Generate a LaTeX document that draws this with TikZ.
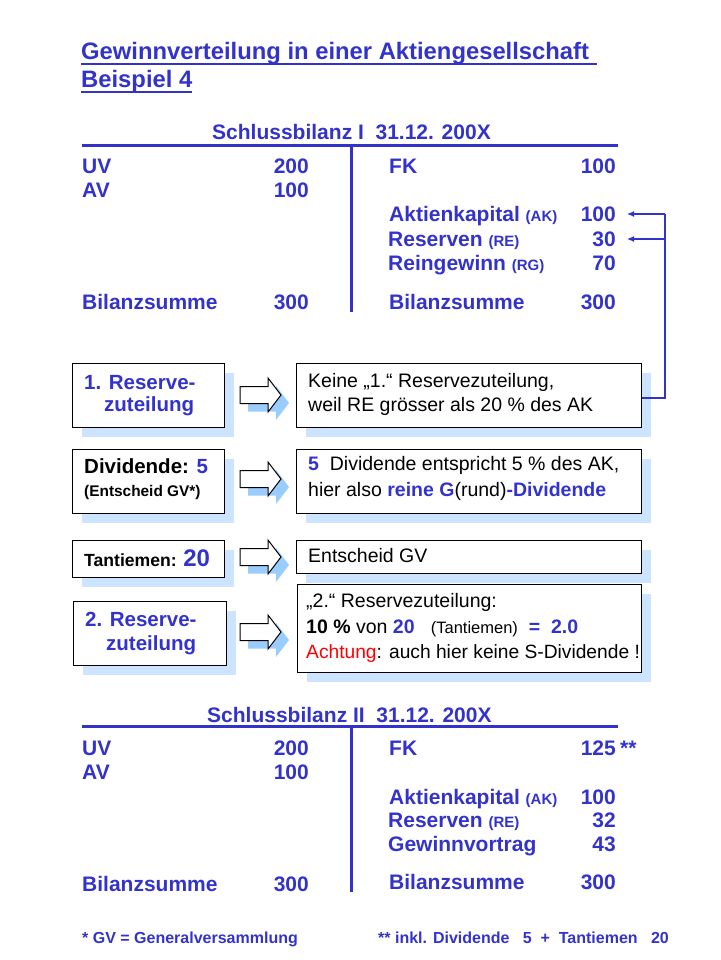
\documentclass[tikz,border=0pt]{standalone}
\usepackage{fontspec}
\setmainfont{Liberation Sans}
\usetikzlibrary{shadows,arrows.meta,calc}
\definecolor{tblue}{HTML}{3333CC}
\definecolor{shadowblue}{HTML}{CCE4FF}
\definecolor{arrowblue}{HTML}{99CCFF}
\definecolor{tred}{HTML}{FF0000}
\newcommand\fsz[1]{\fontsize{#1}{#1}\selectfont}
\tikzset{
  t/.style={inner sep=0pt, anchor=base west},
  tr/.style={inner sep=0pt, anchor=base east},
  bal/.style={t, font=\fsz{21}\bfseries, text=tblue},
  balr/.style={tr, font=\fsz{21}\bfseries, text=tblue},
  bline/.style={draw=tblue, line width=3pt},
  bx/.style={draw=black, line width=1.2pt, fill=white, inner sep=0pt, anchor=north west,
     general shadow={fill=shadowblue, shadow xshift=9pt, shadow yshift=-9pt}},
  blockarrow/.pic={
     \fill[arrowblue] (8,-0.5) -- (36,-0.5) -- (36,-9) -- (49,8) -- (36,25) -- (36,16.5) -- (8,16.5) -- cycle;
     \draw[black, line width=1pt, fill=white, line join=miter]
        (0,-8.5) -- (28,-8.5) -- (28,-17) -- (41,0) -- (28,17) -- (28,8.5) -- (0,8.5) -- cycle;
     \coordinate (-tip) at (41,0);
  },
  btxt/.style={t, font=\fsz{19.5}},
  lbl/.style={t, font=\fsz{20.5}\bfseries, text=tblue},
  conn/.style={draw=tblue, line width=1.2pt},
}
\begin{document}
\begin{tikzpicture}[x=1pt,y=-1pt]
\useasboundingbox (0,0) rectangle (720,960);
% title
\node[t, font=\fsz{23.8}\bfseries, text=tblue] (title1) at (81,60) {Gewinnverteilung in einer Aktiengesellschaft};
\node[t, font=\fsz{23.8}\bfseries, text=tblue] (title2) at (81,88) {Beispiel 4};
\draw[tblue, line width=1.6pt] ([yshift=-4pt]title1.base west) -- ++(516,0);
\draw[tblue, line width=1.6pt] ([yshift=-4pt]title2.base west) -- ++(111,0);

% Schlussbilanz I
\node[bal] (h1) at (212,140) {Schlussbilanz I\ \ 31.12. 200X};
\draw[bline] (82,146) -- (618,146);
\draw[bline] (351,146) -- (351,312);
\node[bal] (uv1) at (82,174) {UV};
\node[balr] (uv1n) at (309,174) {200};
\node[bal] (av1) at (82,197) {AV};
\node[balr] (av1n) at (309,197) {100};
\node[bal] (bs1) at (82,309) {Bilanzsumme};
\node[balr] (bs1n) at (309,309) {300};
\node[bal] (fk1) at (389,174) {FK};
\node[balr] (fk1n) at (616,174) {100};
\node[bal] (ak1) at (389,221) {Aktienkapital {\fsz{15}(AK)}};
\node[balr] (ak1n) at (616,221) {100};
\node[bal] (re1) at (388,246) {Reserven {\fsz{15}(RE)}};
\node[balr] (re1n) at (616,246) {30};
\node[bal] (rg1) at (388,270) {Reingewinn {\fsz{15}(RG)}};
\node[balr] (rg1n) at (616,270) {70};
\node[bal] (bs1r) at (389,309) {Bilanzsumme};
\node[balr] (bs1rn) at (616,309) {300};

% boxes
\node[bx, minimum width=152pt, minimum height=64pt] (A1) at (72,363) {};
\node[bx, minimum width=345pt, minimum height=64pt] (B1) at (296,363) {};
\node[bx, minimum width=152pt, minimum height=64pt] (A2) at (72,449) {};
\node[bx, minimum width=345pt, minimum height=64pt] (B2) at (296,449) {};
\node[bx, minimum width=152pt, minimum height=37pt] (A3) at (72,540) {};
\node[bx, minimum width=345pt, minimum height=33pt] (B3) at (296,540) {};
\node[bx, minimum width=153pt, minimum height=64pt] (A4) at (73,601) {};
\node[bx, minimum width=344pt, minimum height=88pt] (B4) at (297,584) {};

% block arrows
\pic (ar1) at (240,395) {blockarrow};
\pic (ar2) at (240,479) {blockarrow};
\pic (ar3) at (240,557) {blockarrow};
\pic (ar4) at (240,632) {blockarrow};

% box texts
\node[lbl] (a1a) at (84,389) {1. Reserve-};
\node[lbl] (a1b) at (104,411) {zuteilung};
\node[t, font=\fsz{20.5}\bfseries] (a2a) at (84,473) {Dividende: {\color{tblue}5}};
\node[t, font=\fsz{15.4}\bfseries] (a2b) at (84,496) {(Entscheid GV*)};
\node[t, font=\fsz{17.6}\bfseries] (a3) at (84,566) {Tantiemen: {\fsz{24}\color{tblue}20}};
\node[lbl] (a4a) at (85,626) {2. Reserve-};
\node[lbl] (a4b) at (106,650) {zuteilung};

\node[btxt] (b1a) at (308,387) {Keine „1.“ Reservezuteilung,};
\node[btxt] (b1b) at (308,411) {weil RE grösser als 20 \% des AK};
\node[btxt] (b2a) at (308,470) {{\bfseries\color{tblue}5}\ \ Dividende entspricht 5 \% des AK,};
\node[btxt] (b2b) at (308,496) {hier also {\bfseries\color{tblue}reine G}(rund){\bfseries\color{tblue}-Dividende}};
\node[btxt] (b3) at (308,562) {Entscheid GV};
\node[btxt] (b4a) at (306,607) {„2.“ Reservezuteilung:};
\node[btxt] (b4b) at (306,633) {{\bfseries 10 \%} von {\bfseries\color{tblue}20}\ \ \ {\fsz{16.5}(Tantiemen)}\ \ {\bfseries\color{tblue}=\ \ 2.0}};
\node[t, font=\fsz{19.2}] (b4c) at (306,658) {{\color{tred}Achtung}: auch hier keine S-Dividende !};

% connector
\coordinate (cr) at (665,398);
\coordinate (ct1) at (665,214);
\coordinate (ct2) at (665,239);
\coordinate (tip1) at (627,214);
\coordinate (tip2) at (627,239);
\draw[conn] (B1.east |- cr) -- (cr) -- (ct1);
\draw[conn, -{Latex[length=7pt,width=6pt]}] (ct1) -- (tip1);
\draw[conn, -{Latex[length=7pt,width=6pt]}] (ct2) -- (tip2);

% Schlussbilanz II
\node[bal] (h2) at (207,722) {Schlussbilanz II\ \ 31.12. 200X};
\draw[bline] (82,726) -- (618,726);
\draw[bline] (351,726) -- (351,892);
\node[bal] (uv2) at (82,755) {UV};
\node[balr] (uv2n) at (309,755) {200};
\node[bal] (av2) at (82,779) {AV};
\node[balr] (av2n) at (309,779) {100};
\node[bal] (bs2) at (82,891) {Bilanzsumme};
\node[balr] (bs2n) at (309,891) {300};
\node[bal] (fk2) at (389,755) {FK};
\node[balr] (fk2n) at (616,755) {125};
\node[bal] (fk2s) at (620,755) {**};
\node[bal] (ak2) at (389,804) {Aktienkapital {\fsz{15}(AK)}};
\node[balr] (ak2n) at (616,804) {100};
\node[bal] (re2) at (388,827) {Reserven {\fsz{15}(RE)}};
\node[balr] (re2n) at (616,827) {32};
\node[bal] (gv2) at (388,851) {Gewinnvortrag};
\node[balr] (gv2n) at (616,851) {43};
\node[bal] (bs2r) at (389,889) {Bilanzsumme};
\node[balr] (bs2rn) at (616,889) {300};

% footnotes
\node[t, font=\fsz{16}\bfseries, text=tblue] (fn1) at (82,943) {* GV = Generalversammlung};
\node[t, font=\fsz{16}\bfseries, text=tblue] (fn2) at (378,943) {** inkl. Dividende\ \ \ 5\ \ +\ \ Tantiemen\ \ \ 20};
\end{tikzpicture}
\end{document}
